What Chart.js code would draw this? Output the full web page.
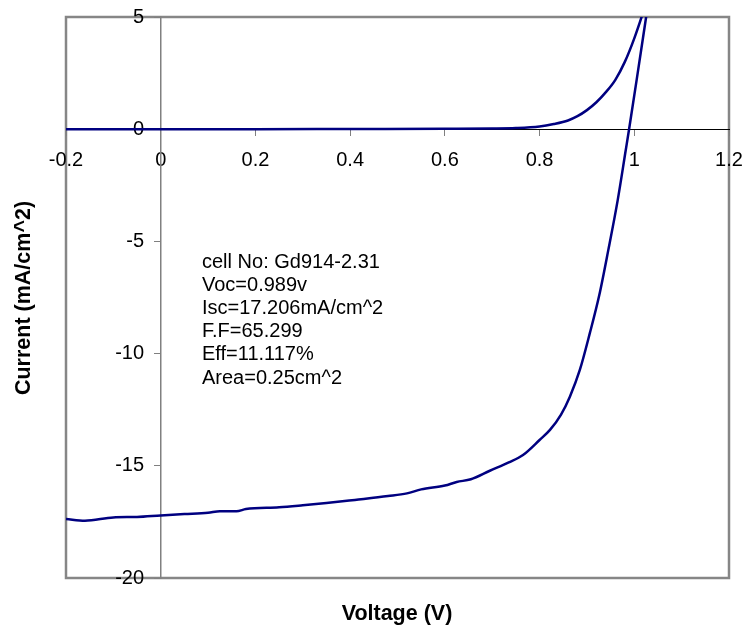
<!DOCTYPE html>
<html>
<head>
<meta charset="utf-8">
<script src="https://cdn.jsdelivr.net/npm/chart.js@4.4.1/dist/chart.umd.min.js"></script>
<style>
  html, body { margin: 0; padding: 0; background: #fff; }
</style>
</head>
<body>
<canvas id="ivChart" width="746" height="628"></canvas>
<script>
/* Curva I-V de la celda: oscuridad y bajo luz */
const lightV = [-0.2, -0.16, -0.1, -0.05, 0, 0.05, 0.1, 0.125, 0.16, 0.18, 0.25, 0.3, 0.35, 0.41, 0.48, 0.52, 0.55, 0.6, 0.625, 0.655, 0.695, 0.735, 0.765, 0.8, 0.822, 0.845, 0.864, 0.885, 0.906, 0.926, 0.945, 0.965, 0.982, 0.989, 1.005, 1.025, 1.035];
const lightI = [-17.37, -17.45, -17.3, -17.28, -17.21, -17.15, -17.09, -17.02, -17.03, -16.93, -16.85, -16.76, -16.66, -16.52, -16.35, -16.23, -16.05, -15.88, -15.72, -15.6, -15.22, -14.85, -14.52, -13.85, -13.4, -12.73, -11.92, -10.73, -9.1, -7.4, -5.4, -3.16, -0.93, 0, 2.2, 5.0, 6.4];
const darkV = [-0.2, 0, 0.2, 0.4, 0.6, 0.7, 0.75, 0.8, 0.83, 0.86, 0.88, 0.9, 0.92, 0.94, 0.96, 0.98, 1.0, 1.02, 1.03];
const darkI = [0, 0, 0, 0.01, 0.02, 0.03, 0.05, 0.12, 0.23, 0.39, 0.58, 0.85, 1.2, 1.65, 2.2, 3.0, 4.05, 5.3, 6.0];
const xTicks = [-0.2, 0, 0.2, 0.4, 0.6, 0.8, 1, 1.2];
const yTicks = [-20, -15, -10, -5, 0, 5];
const infoLines = ['cell No: Gd914-2.31', 'Voc=0.989v', 'Isc=17.206mA/cm^2', 'F.F=65.299', 'Eff=11.117%', 'Area=0.25cm^2'];
const xTitle = 'Voltage (V)';
const yTitle = 'Current (mA/cm^2)';

const FONT = '"Liberation Sans", Arial, sans-serif';
const toPoints = (xs, ys) => xs.map((x, i) => ({x: x, y: ys[i]}));
// sin relleno extra alrededor del area del grafico
const noPad = s => { s.paddingLeft = s.paddingRight = s.paddingTop = s.paddingBottom = 0; };

// marco gris + textos (titulos y cuadro de datos)
const extras = {
    id: 'extras',
    beforeDraw(chart) {
        const {ctx, chartArea: a} = chart;
        ctx.save();
        ctx.strokeStyle = '#868686';
        ctx.lineWidth = 2.5;
        ctx.strokeRect(a.left, a.top, a.right - a.left, a.bottom - a.top);
        ctx.restore();
    },
    afterDraw(chart) {
        const ctx = chart.ctx;
        ctx.save();
        ctx.fillStyle = '#000';
        ctx.textBaseline = 'middle';
        ctx.font = '20px ' + FONT;
        infoLines.forEach((t, i) => ctx.fillText(t, 202, 262 + i * 23.2));
        ctx.font = 'bold 21.5px ' + FONT;
        ctx.textAlign = 'center';
        ctx.fillText(xTitle, 397, 614);
        ctx.translate(24, 298);
        ctx.rotate(-Math.PI / 2);
        ctx.fillText(yTitle, 0, 0);
        ctx.restore();
    }
};

new Chart(document.getElementById('ivChart'), {
    type: 'scatter',
    data: {
        datasets: [{
            label: 'Dark',
            data: toPoints(darkV, darkI),
            showLine: true,
            borderColor: '#000080',
            borderWidth: 2.5,
            pointRadius: 0,
            cubicInterpolationMode: 'monotone'
        }, {
            label: 'Light',
            data: toPoints(lightV, lightI),
            showLine: true,
            borderColor: '#000080',
            borderWidth: 2.5,
            pointRadius: 0,
            cubicInterpolationMode: 'monotone'
        }]
    },
    options: {
        responsive: false,
        animation: false,
        layout: { padding: { left: 66, top: 17, right: 17, bottom: 50 } },
        plugins: {
            legend: { display: false },
            tooltip: { enabled: false }
        },
        scales: {
            x: {
                type: 'linear',
                min: -0.2,
                max: 1.2,
                position: { y: 0 },
                afterBuildTicks: s => { s.ticks = xTicks.map(v => ({value: v})); },
                afterFit: noPad,
                ticks: {
                    color: '#000', font: { size: 20, family: FONT }, padding: 13, maxRotation: 0, autoSkip: false,
                    callback: v => String(Math.round(v * 10) / 10)
                },
                grid: { drawOnChartArea: false, color: '#808080', tickLength: 6 },
                border: { color: '#000', width: 1 }
            },
            y: {
                type: 'linear',
                min: -20,
                max: 5,
                position: { x: 0 },
                afterBuildTicks: s => { s.ticks = yTicks.map(v => ({value: v})); },
                afterFit: noPad,
                ticks: {
                    color: '#000', font: { size: 20, family: FONT }, autoSkip: false,
                    // etiquetas a la izquierda del eje (hueco tras el texto)
                    callback: v => v + '   '
                },
                grid: { drawOnChartArea: false, color: '#808080', tickLength: 6 },
                border: { color: '#808080', width: 1.5 }
            }
        }
    },
    plugins: [extras]
});
</script>
</body>
</html>
